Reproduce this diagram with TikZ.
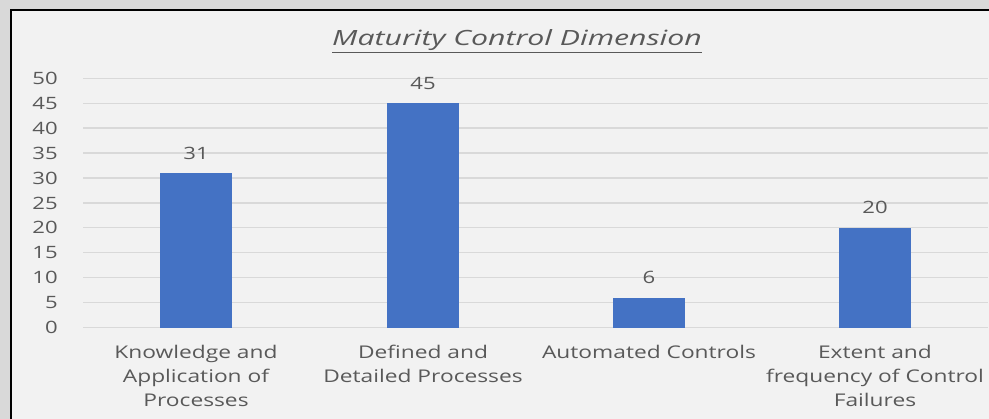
\documentclass[tikz,border=0pt]{standalone}
\usepackage{fontspec}
\setmainfont{Open Sans}
\definecolor{outerbg}{HTML}{D9D9D9}
\definecolor{innerbg}{HTML}{F2F2F2}
\definecolor{barblue}{HTML}{4472C4}
\definecolor{txtgray}{HTML}{595959}
\definecolor{gridgray}{HTML}{D9D9D9}
\tikzset{
  ticklbl/.style={anchor=east, text=txtgray, font=\fontsize{17}{17}\selectfont, xscale=1.3, transform shape, inner sep=0pt},
  vallbl/.style={text=txtgray, font=\fontsize{17}{17}\selectfont, xscale=1.3, transform shape, inner sep=0pt},
  catlbl/.style={text=txtgray, font=\fontsize{17.5}{24}\selectfont, align=center, anchor=north, xscale=1.3, transform shape, inner sep=0pt},
  gridline/.style={draw=gridgray, line width=1.2pt},
  bar/.style={fill=barblue},
}
\begin{document}
\begin{tikzpicture}[x=1pt,y=-1pt]
\useasboundingbox (0,0) rectangle (989,419);
\clip (0,0) rectangle (989,419);
\fill[outerbg] (0,0) rectangle (989,419);
\draw[fill=innerbg, line width=1.6pt] (11,10) rectangle (1000,430);
% grid and ticks
\foreach \k in {0,...,10}{
  \pgfmathsetmacro{\yy}{327.7-\k*24.95}
  \draw[gridline] (83,\yy) -- (988,\yy);
  \pgfmathtruncatemacro{\vv}{\k*5}
  \node[ticklbl] (t\k) at (58,\yy) {\vv};
}
% bars
\foreach \i/\cx/\v in {1/196/31, 2/423/45, 3/649/6, 4/875/20}{
  \pgfmathsetmacro{\top}{327.7-\v*4.99}
  \fill[bar] (\cx-36,327.7) rectangle (\cx+36,\top);
  \node[vallbl] (v\i) at (\cx,\top-20) {\v};
}
\node[catlbl] (c1) at (196,345) {Knowledge and\\Application of\\Processes};
\node[catlbl] (c2) at (423,345) {Defined and\\Detailed Processes};
\node[catlbl] (c3) at (649,345) {Automated Controls};
\node[catlbl] (c4) at (875,345) {Extent and\\frequency of Control\\Failures};
\node[text=txtgray, font=\fontsize{21}{21}\selectfont\itshape, xscale=1.44, transform shape, inner sep=0pt] (title) at (517,41) {\underline{Maturity Control Dimension}};
\end{tikzpicture}
\end{document}
